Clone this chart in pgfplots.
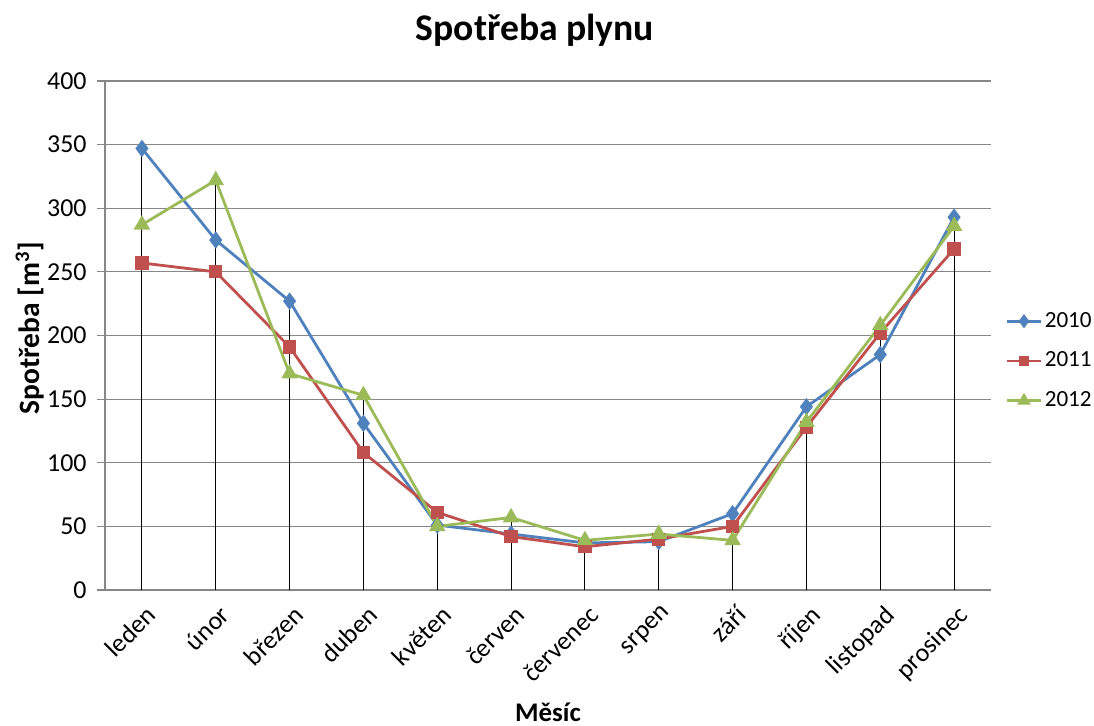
\documentclass[border=0pt]{standalone}
\usepackage{pgfplots}
\pgfplotsset{compat=1.18}
\usepackage{pgfplotstable}
\usepackage{fontspec}
\setmainfont{Carlito}
\definecolor{c2010}{HTML}{4F81BD}
\definecolor{c2011}{HTML}{C0504D}
\definecolor{c2012}{HTML}{9BBB59}
\definecolor{gridgray}{HTML}{878787}
\pgfplotstableread{
m y2010 y2011 y2012
0 347 257 287
1 275 250 322
2 227 191 170
3 131 108 153
4 51 61 50
5 44 42 57
6 37 34 39
7 38 40 44
8 60 50 39
9 144 128 132
10 185 202 208
11 293 268 286
}\data
\begin{document}
\begin{tikzpicture}
\useasboundingbox (-52.5bp,-68bp) rectangle (494.5bp,295bp);
\begin{axis}[
  at={(0,0)}, anchor=south west,
  scale only axis, width=443bp, height=254.5bp,
  xmin=-0.5, xmax=11.5, ymin=0, ymax=400,
  axis x line*=bottom, axis y line*=left,
  axis line style={gridgray, line width=0.6bp},
  xtick={0,...,11},
  xticklabels={leden,únor,březen,duben,květen,červen,červenec,srpen,září,říjen,listopad,prosinec},
  x tick style={draw=none},
  extra x ticks={-0.5,0.5,...,11.5},
  extra x tick labels={},
  extra x tick style={major tick length=4bp, tick style={gridgray, line width=0.6bp}},
  ytick={0,50,...,400},
  y tick style={gridgray, line width=0.6bp},
  major tick length=4bp,
  tick align=outside,
  ymajorgrids, grid style={gridgray, line width=0.6bp},
  /pgf/number format/assume math mode=true,
  tick label style={font=\fontsize{13}{14}\selectfont},
  xticklabel style={rotate=45, anchor=north east, inner sep=1bp, yshift=-2bp},
  yticklabel style={inner sep=2bp, xshift=-3bp},
  legend style={at={(1.016,0.45)}, anchor=west, draw=none, fill=none,
    font=\fontsize{11.6}{13}\selectfont, row sep=8.5bp, inner sep=0pt,
    nodes={inner sep=1.2bp}},
  legend cell align=left,
  legend image code/.code={\draw[mark repeat=2,mark phase=2,mark options={scale=0.75}] plot coordinates {(0bp,0bp) (8.5bp,0bp) (17bp,0bp)};},
]
\addplot[black, line width=0.5bp, ycomb, forget plot] table[x=m, y=y2010] {\data};
\addplot[black, line width=0.5bp, ycomb, forget plot] table[x=m, y=y2011] {\data};
\addplot[black, line width=0.5bp, ycomb, forget plot] table[x=m, y=y2012] {\data};
\addplot[c2010, line width=1.4bp, mark=diamond*, mark size=3.2bp, mark options={solid, fill=c2010}] table[x=m, y=y2010] {\data};
\addlegendentry{2010}
\addplot[c2011, line width=1.4bp, mark=square*, mark size=2.6bp, mark options={solid, fill=c2011}] table[x=m, y=y2011] {\data};
\addlegendentry{2011}
\addplot[c2012, line width=1.4bp, mark=triangle*, mark size=3.4bp, mark options={solid, fill=c2012}] table[x=m, y=y2012] {\data};
\addlegendentry{2012}
\end{axis}
\node[font=\bfseries\fontsize{18.9}{22}\selectfont] at (215bp,280bp) {Spotřeba plynu};
\node[font=\bfseries\fontsize{13.5}{16}\selectfont] at (221.5bp,-61bp) {Měsíc};
\node[font=\bfseries\fontsize{14.8}{17}\selectfont, rotate=90] at (-37.5bp,131bp) {Spotřeba [m\textsuperscript{3}]};
\end{tikzpicture}
\end{document}
